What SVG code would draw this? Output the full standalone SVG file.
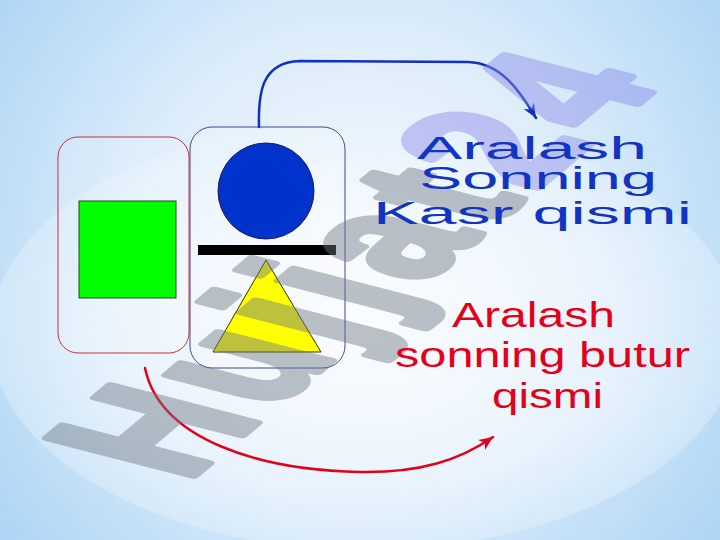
<svg xmlns="http://www.w3.org/2000/svg" width="720" height="540" viewBox="0 0 720 540">
<defs>
<radialGradient id="bg" cx="360" cy="260" r="520" gradientUnits="userSpaceOnUse">
<stop offset="0" stop-color="#f6fafe"/>
<stop offset="0.45" stop-color="#dcecfa"/>
<stop offset="1" stop-color="#9fcef3"/>
</radialGradient>
<radialGradient id="glow" cx="0.5" cy="0.5" r="0.5">
<stop offset="0" stop-color="#ffffff" stop-opacity="1"/>
<stop offset="0.7" stop-color="#f4f9fe" stop-opacity="0.8"/>
<stop offset="1" stop-color="#e6f2fc" stop-opacity="0.6"/>
</radialGradient>
<marker id="arrBlue" markerUnits="userSpaceOnUse" markerWidth="16" markerHeight="14" refX="14" refY="6" orient="auto" viewBox="0 0 16 12">
<path d="M0,0 L14,6 L0,12 L4,6 z" fill="#1030c0"/>
</marker>
<marker id="arrRed" markerUnits="userSpaceOnUse" markerWidth="16" markerHeight="14" refX="14" refY="6" orient="auto" viewBox="0 0 16 12">
<path d="M0,0 L14,6 L0,12 L4,6 z" fill="#e5001a"/>
</marker>
</defs>
<style>
.box{fill:#ffffff;fill-opacity:0.15;stroke-width:1}
.conn{fill:none;stroke-width:2.5;stroke-linecap:round}
.blueT{font-family:"Liberation Sans",Arial,sans-serif;font-size:31px;fill:#1234c2}
.redT{font-family:"Liberation Sans",Arial,sans-serif;font-size:35px;fill:#e5001a}
.wm{font-family:"Liberation Sans",Arial,sans-serif;font-weight:bold;font-size:100px;letter-spacing:7px;stroke-width:5;stroke-linejoin:round}
</style>
<rect x="0" y="0" width="720" height="540" fill="url(#bg)"/>
<ellipse cx="365" cy="335" rx="375" ry="215" fill="url(#glow)" opacity="0.7"/>

<g id="leftBox">
<rect class="box" x="58" y="137" width="131" height="216" rx="20" stroke="#c83040"/>
<rect x="79" y="201" width="97" height="97" fill="#00ff00" stroke="#1d4a1d" stroke-width="1"/>
</g>
<g id="rightBox">
<rect class="box" x="190" y="127" width="155" height="241" rx="22" stroke="#3c4896"/>
</g>
<g id="circle">
<ellipse cx="266" cy="191" rx="48" ry="48" fill="#0033cc" stroke="#1a1a60" stroke-width="1"/>
</g>
<g id="bar">
<rect x="198" y="245" width="138" height="10" fill="#000000"/>
</g>
<g id="triangle">
<polygon points="266,260 213,352 321,352" fill="#ffff00" stroke="#333300" stroke-width="1"/>
</g>

<g id="connectors">
<path class="conn" d="M259,127 C258,92 262,62 300,61 L468,62 C500,63 518,88 536,118" stroke="#1030c0" marker-end="url(#arrBlue)"/>
<path class="conn" d="M145,368 C160,440 260,470 360,472 C420,473 460,460 493,437" stroke="#e5001a" marker-end="url(#arrRed)"/>
</g>

<g id="watermark" opacity="0.45">
<text class="wm" transform="matrix(1.086,-0.91,2.12,0.545,186,482)" x="0" y="0"><tspan fill="#6e7884" stroke="#6e7884">Hujjat</tspan><tspan fill="#8a8ae8" stroke="#8a8ae8">24</tspan></text>
</g>

<g id="fractionText">
<text class="blueT" x="417" y="159" textLength="230" lengthAdjust="spacingAndGlyphs">Aralash</text>
<text class="blueT" x="419" y="188.5" textLength="238" lengthAdjust="spacingAndGlyphs">Sonning</text>
<text class="blueT" x="373" y="224" textLength="319" lengthAdjust="spacingAndGlyphs">Kasr qismi</text>
</g>
<g id="wholeText">
<text class="redT" x="452" y="327" textLength="163" lengthAdjust="spacingAndGlyphs">Aralash</text>
<text class="redT" x="395" y="367" textLength="295" lengthAdjust="spacingAndGlyphs">sonning butur</text>
<text class="redT" x="492" y="408" textLength="111" lengthAdjust="spacingAndGlyphs">qismi</text>
</g>
</svg>
